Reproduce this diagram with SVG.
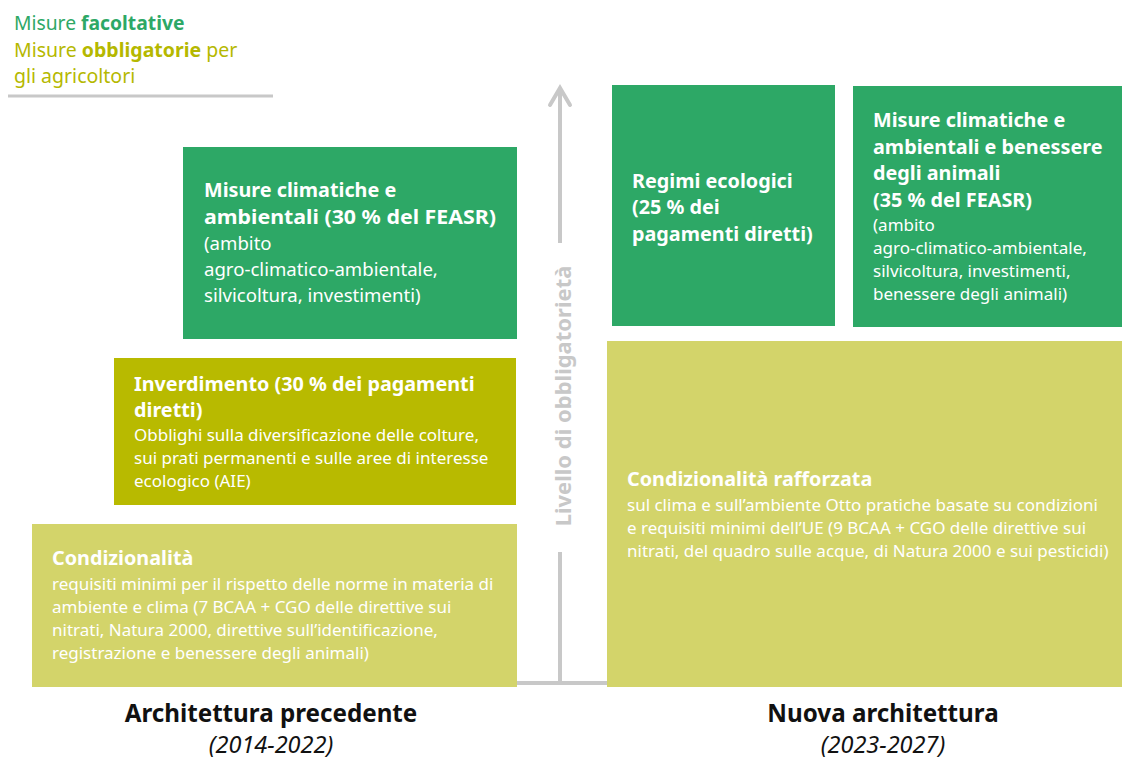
<svg xmlns="http://www.w3.org/2000/svg" width="1122" height="758" viewBox="0 0 1122 758">
<style>
text{font-family:"Noto Sans","Open Sans",sans-serif;}
.w{fill:#ffffff;}
.b{font-weight:bold;font-size:19.8px;}
.r{font-size:17px;}
.r2{font-size:18.6px;}
.green{fill:#2DA866;}
.olive{fill:#B8BA00;}
.light{fill:#D3D46A;}
.lab{font-weight:bold;font-size:24.2px;fill:#111;text-anchor:middle;}
.yr{font-style:italic;font-size:23.5px;fill:#111;text-anchor:middle;}
</style>
<rect width="1122" height="758" fill="#ffffff"/>
<g id="legend">
<text x="14" y="30" font-size="19.3" fill="#2DA866">Misure <tspan font-weight="bold">facoltative</tspan></text>
<text x="14" y="57" font-size="19.5" fill="#B5B800">Misure <tspan font-weight="bold">obbligatorie</tspan> per</text>
<text x="14" y="83" font-size="19.5" fill="#B5B800">gli agricoltori</text>
<line x1="8" y1="96" x2="273" y2="96" stroke="#C8C8C8" stroke-width="3"/>
</g>
<g id="connectors" stroke="#C8C8C8" stroke-width="4" fill="none" stroke-linecap="butt">
<line x1="517" y1="683" x2="607" y2="683"/>
<line x1="560" y1="683" x2="560" y2="552"/>
<line x1="560" y1="243" x2="560" y2="88"/>
<polyline points="550,105 560,88 570,105" stroke-linejoin="miter" stroke-linecap="round"/>
</g>
<g id="axis-label">
<text transform="translate(571,396) rotate(-90)" text-anchor="middle" font-weight="bold" font-size="22" fill="#C8C8C8">Livello di obbligatorietà</text>
</g>
<g id="old-clima">
<rect class="green" x="183" y="147" width="334" height="192"/>
<text class="w b" x="204" y="197">Misure climatiche e</text>
<text class="w b" x="204" y="224" textLength="292" lengthAdjust="spacingAndGlyphs">ambientali (30 % del FEASR)</text>
<text class="w r2" x="204" y="250">(ambito</text>
<text class="w r2" x="204" y="276">agro-climatico-ambientale,</text>
<text class="w r2" x="204" y="302">silvicoltura, investimenti)</text>
</g>
<g id="old-inverdimento">
<rect class="olive" x="114" y="358" width="402" height="147"/>
<text class="w b" x="134" y="391">Inverdimento (30 % dei pagamenti</text>
<text class="w b" x="134" y="417">diretti)</text>
<text class="w r" x="134" y="441">Obblighi sulla diversificazione delle colture,</text>
<text class="w r" x="134" y="464">sui prati permanenti e sulle aree di interesse</text>
<text class="w r" x="134" y="487">ecologico (AIE)</text>
</g>
<g id="old-condizionalita">
<rect class="light" x="32" y="524" width="485" height="163"/>
<text class="w b" x="52" y="565">Condizionalità</text>
<text class="w r" x="52" y="590">requisiti minimi per il rispetto delle norme in materia di</text>
<text class="w r" x="52" y="613">ambiente e clima (7 BCAA + CGO delle direttive sui</text>
<text class="w r" x="52" y="636">nitrati, Natura 2000, direttive sull’identificazione,</text>
<text class="w r" x="52" y="659">registrazione e benessere degli animali)</text>
</g>
<g id="new-regimi">
<rect class="green" x="612" y="85" width="223" height="241"/>
<text class="w b" x="632" y="188">Regimi ecologici</text>
<text class="w b" x="632" y="214">(25 % dei</text>
<text class="w b" x="632" y="241">pagamenti diretti)</text>
</g>
<g id="new-clima">
<rect class="green" x="853" y="86" width="269" height="241"/>
<text class="w b" x="873" y="127">Misure climatiche e</text>
<text class="w b" x="873" y="154">ambientali e benessere</text>
<text class="w b" x="873" y="180">degli animali</text>
<text class="w b" x="873" y="207">(35 % del FEASR)</text>
<text class="w r" x="873" y="231">(ambito</text>
<text class="w r" x="873" y="254">agro-climatico-ambientale,</text>
<text class="w r" x="873" y="277">silvicoltura, investimenti,</text>
<text class="w r" x="873" y="300">benessere degli animali)</text>
</g>
<g id="new-condizionalita">
<rect class="light" x="607" y="341" width="515" height="346"/>
<text class="w b" x="627" y="486">Condizionalità rafforzata</text>
<text class="w r" x="627" y="511">sul clima e sull’ambiente Otto pratiche basate su condizioni</text>
<text class="w r" x="627" y="534">e requisiti minimi dell’UE (9 BCAA + CGO delle direttive sui</text>
<text class="w r" x="627" y="557">nitrati, del quadro sulle acque, di Natura 2000 e sui pesticidi)</text>
</g>
<g id="labels">
<text class="lab" x="271" y="722">Architettura precedente</text>
<text class="yr" x="271" y="753">(2014-2022)</text>
<text class="lab" x="883" y="722">Nuova architettura</text>
<text class="yr" x="883" y="753">(2023-2027)</text>
</g>
</svg>
